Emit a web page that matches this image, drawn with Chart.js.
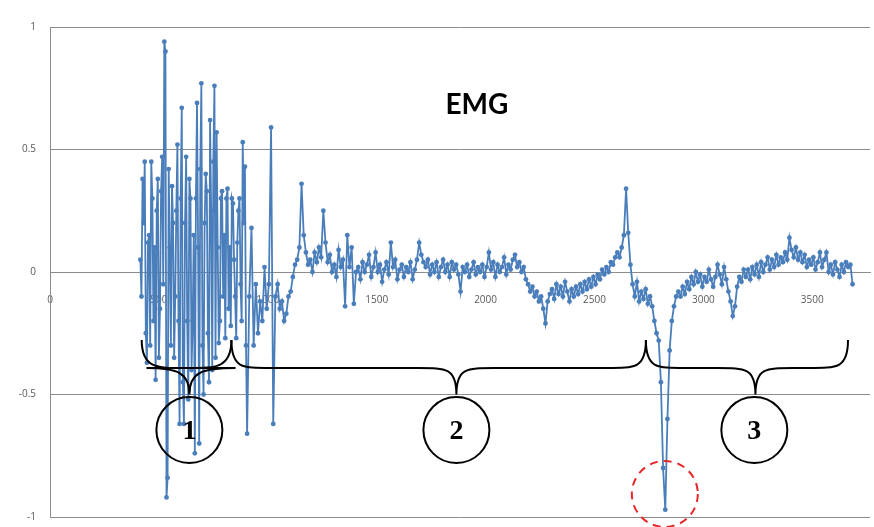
<!DOCTYPE html>
<html>
<head>
<meta charset="utf-8">
<script src="https://cdn.jsdelivr.net/npm/chart.js@4"></script>
<style>
  body { margin: 0; background: #fff; }
  #wrap { width: 874px; height: 527px; }
</style>
</head>
<body>
<div id="wrap"><canvas id="emgChart" width="874" height="527"></canvas></div>
<script>
// burst part is sampled finer than the rest
const burstStart = 415;
const burstStep = 5;
const mainStart = 915;
const mainStep = 10;

// EMG amplitude
const burstValues = [
    0.05, -0.1, 0.38, 0.2, 0.45, -0.25, -0.37, 0.12, 0.15, -0.3,
    0.45, 0.3, -0.2, 0.1, -0.44, 0.25, 0.38, -0.35, -0.15, 0.33,
    0.47, -0.05, 0.94, 0.9, -0.92, -0.84, 0.42, 0.1, -0.3, 0.35,
    0.2, -0.35, -0.1, 0.25, 0.52, -0.2, -0.62, 0.3, 0.67, -0.45,
    -0.62, 0.2, 0.47, -0.2, -0.52, 0.38, 0.3, -0.4, -0.2, 0.15,
    -0.74, 0.3, 0.69, 0.1, -0.7, 0.42, 0.77, -0.3, -0.5, 0.2,
    0.4, 0.33, -0.25, -0.45, 0.62, 0.25, -0.4, 0.45, 0.76, -0.35,
    0.57, 0.1, -0.29, -0.2, 0.3, 0.33, -0.1, 0.15, -0.27, 0.3,
    0.34, -0.15, 0.1, -0.22, 0.3, 0.28, 0.05, -0.1, -0.27, 0.12,
    0.25, 0.3, -0.05, -0.2, 0.53, 0.2, 0.43, -0.3, -0.66
];
const settleValues = [
    -0.1, 0.18, -0.3, -0.05, -0.25, -0.12, -0.2, 0.02, -0.15, -0.05,
    0.59, -0.62, -0.1, -0.05, -0.15, -0.12, -0.2, -0.17, -0.1, -0.08,
    -0.02, 0.03, 0.05, 0.1, 0.36, 0.15, 0.08, 0.03,
    0.05, 0.0, 0.08, 0.04, 0.1, 0.06, 0.25, 0.12, 0.04, 0.07,
    0.0, 0.03, -0.02, 0.09, 0.02, 0.05, -0.14, 0.15, 0.02, 0.1,
    -0.13, 0.0
];
const restValues = [
    0.02, -0.03, 0.04, 0.0, 0.03, 0.07, -0.02, 0.02, 0.08, 0.0,
    0.03, -0.04, 0.01, 0.04, -0.01, 0.12, 0.02, 0.05, -0.03, 0.01,
    0.03, -0.02, 0.02, 0.0, 0.04, -0.03, 0.01, 0.05, 0.12, 0.07,
    0.04, 0.02, 0.05, -0.01, 0.03, 0.0, 0.04, -0.02, 0.02, 0.05,
    0.0, 0.03, -0.02, 0.04, 0.01, 0.03, -0.01, -0.08, 0.02, 0.0,
    0.03, -0.02, 0.01, 0.04, -0.01, 0.02, 0.0, 0.03, -0.02,
    0.02, 0.08, 0.01, 0.04, -0.02, 0.03, 0.0, 0.02, 0.06, -0.01,
    0.03, 0.01, 0.05, 0.07, 0.02, 0.04, 0.0, 0.02, -0.03, -0.05,
    -0.08, -0.06, -0.1, -0.08, -0.12, -0.1, -0.15, -0.21, -0.12, -0.09,
    -0.07, -0.11, -0.05, -0.09, -0.06, -0.1, -0.04, -0.08, -0.12, -0.07,
    -0.1, -0.06, -0.09, -0.05, -0.08, -0.04, -0.07, -0.03, -0.06, -0.02,
    -0.05, -0.01, -0.03, 0.01, -0.01, 0.02, 0.0, 0.04, 0.03, 0.06
];
const spikeValues = [
    0.08, 0.06, 0.1, 0.15, 0.34, 0.16, 0.03, -0.05, -0.1, -0.04,
    -0.12, -0.08, -0.11, -0.07, -0.13, -0.1, -0.14, -0.2, -0.25, -0.28,
    -0.45, -0.8, -0.97, -0.6, -0.32, -0.2, -0.14, -0.1, -0.08, -0.1
];
const recoveryValues = [
    -0.06, -0.09, -0.04, -0.07, -0.02, -0.05, 0.0, -0.04, -0.01, -0.06,
    -0.02, -0.04, 0.01, -0.03, -0.06, -0.02, 0.03, -0.01, -0.05, 0.02,
    -0.03, -0.08, -0.12, -0.18, -0.14, -0.06, -0.02, -0.04, 0.01, -0.02,
    0.01, -0.03, 0.02, -0.01, 0.03, -0.02, 0.04, 0.0, 0.03, 0.06,
    0.01, 0.05, 0.02, 0.07, 0.03, 0.06, 0.04, 0.08, 0.05, 0.14,
    0.09, 0.06, 0.1, 0.05, 0.08, 0.04, 0.07, 0.02, 0.05, 0.03,
    0.06, 0.01, 0.04, 0.08, 0.02, 0.05, 0.08, 0.0, 0.03, -0.01,
    0.04, 0.01, -0.02, 0.03, 0.0, 0.04, 0.02, 0.03, -0.05
];

const xTicks = [0, 500, 1000, 1500, 2000, 2500, 3000, 3500];
const yTicks = [-1, -0.5, 0, 0.5, 1];

const mainValues = [].concat(settleValues, restValues, spikeValues, recoveryValues);
const emgPoints = burstValues.map((v, i) => ({ x: burstStart + i * burstStep, y: v }))
    .concat(mainValues.map((v, i) => ({ x: mainStart + i * mainStep, y: v })));

// annotation shapes, in data units
const braceTop = -0.278, braceLine = -0.392, braceTip = -0.5;
const braces = [
    { from: 833, tip: 1866, to: 2736 },
    { from: 2736, tip: 3239, to: 3664 }
];
const phaseLabels = ['1', '2', '3'];
const phaseX = [640, 1866, 3234];
const phaseY = -0.645;

const blue = '#4A7EBB';
const gridGray = '#8c8c8c';

const annotate = {
    id: 'annotate',
    afterDatasetsDraw(chart) {
        const c = chart.ctx;
        const sx = chart.scales.x, sy = chart.scales.y;
        const px = v => sx.getPixelForValue(v);
        const py = v => sy.getPixelForValue(v);
        const top = py(braceTop), line = py(braceLine), tip = py(braceTip);
        c.save();
        c.strokeStyle = '#000';
        c.lineWidth = 2;

        // phase 1: rounded bracket, bar and a short tip below
        c.beginPath();
        c.moveTo(px(421), top);
        c.bezierCurveTo(px(421), line + 2, px(500), line, px(640), line);
        c.bezierCurveTo(px(760), line, px(833), line, px(833), top);
        c.stroke();
        c.beginPath();
        c.moveTo(px(444), line);
        c.lineTo(px(851), line);
        c.stroke();
        c.beginPath();
        c.moveTo(px(444), line);
        c.bezierCurveTo(px(580), line, px(640), line + 4, px(640), tip);
        c.moveTo(px(851), line);
        c.bezierCurveTo(px(700), line, px(640), line + 4, px(640), tip);
        c.stroke();

        // phases 2 and 3: curly braces
        braces.forEach(b => {
            const a = px(b.from), m = px(b.tip), e = px(b.to);
            c.beginPath();
            c.moveTo(a, top);
            c.bezierCurveTo(a, line, a + 10, line, a + 40, line);
            c.lineTo(m - 38, line);
            c.bezierCurveTo(m - 10, line, m, line, m, tip);
            c.bezierCurveTo(m, line, m + 10, line, m + 38, line);
            c.lineTo(e - 40, line);
            c.bezierCurveTo(e - 10, line, e, line, e, top);
            c.stroke();
        });

        // numbered circles
        c.font = 'bold 28px "Liberation Serif", serif';
        c.textAlign = 'center';
        c.textBaseline = 'middle';
        c.fillStyle = '#000';
        phaseLabels.forEach((t, i) => {
            c.beginPath();
            c.arc(px(phaseX[i]), py(phaseY), 33, 0, Math.PI * 2);
            c.stroke();
            c.fillText(t, px(phaseX[i]), py(phaseY) + 2);
        });

        // dashed red circle round the deepest point
        c.beginPath();
        c.setLineDash([8, 6]);
        c.strokeStyle = '#e8262a';
        c.arc(px(2823), py(-0.906), 33, 0, Math.PI * 2);
        c.stroke();
        c.setLineDash([]);

        // title inside the plot
        c.font = 'bold 28px Lato, sans-serif';
        c.fillStyle = '#000';
        c.fillText('EMG', px(1960), py(0.68));
        c.restore();
    }
};

// drop the extra room Chart.js keeps for half tick labels
const noEdgePadding = s => {
    s.paddingTop = 0;
    s.paddingBottom = 0;
    s.paddingLeft = 0;
    s.paddingRight = 0;
};

new Chart(document.getElementById('emgChart'), {
    type: 'line',
    data: {
        datasets: [{
            data: emgPoints,
            borderColor: blue,
            backgroundColor: blue,
            borderWidth: 1.8,
            pointRadius: 2.4,
            pointBorderWidth: 0,
            pointBackgroundColor: blue,
            tension: 0
        }]
    },
    options: {
        responsive: false,
        animation: false,
        layout: { padding: { top: 27, bottom: 10, left: 0, right: -6 } },
        plugins: { legend: { display: false }, tooltip: { enabled: false } },
        scales: {
            x: {
                type: 'linear',
                position: { y: 0 },
                min: 0,
                max: 3765,
                afterBuildTicks: s => { s.ticks = xTicks.map(v => ({ value: v })); },
                afterFit: noEdgePadding,
                grid: { display: false },
                border: { display: true, color: gridGray },
                ticks: {
                    padding: 14,
                    color: '#595959',
                    font: { family: 'Open Sans', size: 10 },
                    maxRotation: 0,
                    callback: v => String(v)
                }
            },
            y: {
                min: -1,
                max: 1,
                afterBuildTicks: s => { s.ticks = yTicks.map(v => ({ value: v })); },
                afterFit: s => { s.width = 50; noEdgePadding(s); },
                grid: { color: gridGray, drawTicks: false },
                border: { display: true, color: gridGray },
                ticks: {
                    padding: 14,
                    color: '#595959',
                    font: { family: 'Open Sans', size: 10 },
                    callback: v => String(v)
                }
            }
        }
    },
    plugins: [annotate]
});
</script>
</body>
</html>
